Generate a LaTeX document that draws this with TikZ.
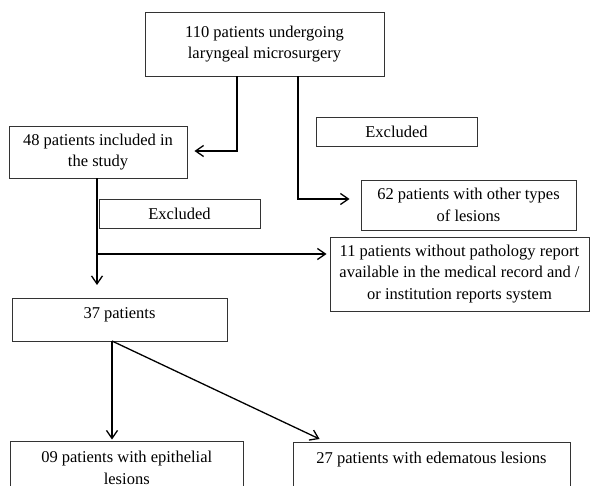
\documentclass[tikz,border=0pt]{standalone}
\usepackage{fontspec}
\setmainfont{Liberation Serif}
\usetikzlibrary{arrows.meta}
\begin{document}
\begin{tikzpicture}[x=1pt,y=-1pt,
  box/.style={draw=black!80, line width=0.9pt, inner sep=0pt, align=center,
    font=\fontsize{16.5}{21.7}\selectfont},
  arr/.style={draw=black, line width=1.3pt, -{Straight Barb[length=8pt,width=11pt,line width=1.3pt]}},
  plain/.style={draw=black, line width=1.3pt}]
\useasboundingbox (0,0) rectangle (590,486);
\fill[white] (0,0) rectangle (590,486);
\clip (0,0) rectangle (590,486);

\node[box, minimum width=239pt, minimum height=64pt] (top) at (264.5,44)
  {110 patients undergoing\\laryngeal microsurgery};
\node[box, minimum width=178pt, minimum height=52pt] (inc) at (98,152)
  {48 patients included in\\the study};
\node[box, minimum width=161pt, minimum height=29pt] (exa) at (396.5,131.5) {Excluded};
\node[box, minimum width=215pt, minimum height=50pt] (oth) at (468.5,205)
  {62 patients with other types\\of lesions};
\node[box, minimum width=161pt, minimum height=29pt] (exb) at (179.5,213.5) {Excluded};
\node[box, minimum width=259pt, minimum height=74pt] (npr) at (459.5,274)
  {11 patients without pathology report\\available in the medical record and /\\or institution reports system};
\node[box, anchor=north, minimum width=215pt, text height=20pt, text depth=23pt] (pat) at (119.5,298)
  {37 patients};
\node[box, minimum width=232.5pt, minimum height=54pt] (epi) at (126.75,468)
  {09 patients with epithelial\\lesions};
\node[box, anchor=north, minimum width=277pt, text height=21pt, text depth=40pt] (ede) at (431.5,442)
  {27 patients with edematous lesions};

\coordinate (j1) at (237,151);
\coordinate (j2) at (298,199);
\coordinate (j3) at (97,254);
\coordinate (j4) at (112,341);

\draw[arr, shorten >=7pt] (j1 |- top.south) -- (j1) -- (inc.east |- j1);
\draw[arr, shorten >=11pt] (j2 |- top.south) -- (j2) -- (oth.west |- j2);
\draw[arr, shorten >=13pt] (j3 |- inc.south) -- (j3 |- pat.north);
\draw[arr, shorten >=3pt] (j3) -- (j3 -| npr.west);
\draw[arr, shorten >=1pt] (j4) -- (j4 |- epi.north);
\draw[arr] (j4) -- ([xshift=27pt,yshift=3pt]ede.north west);
\end{tikzpicture}
\end{document}
